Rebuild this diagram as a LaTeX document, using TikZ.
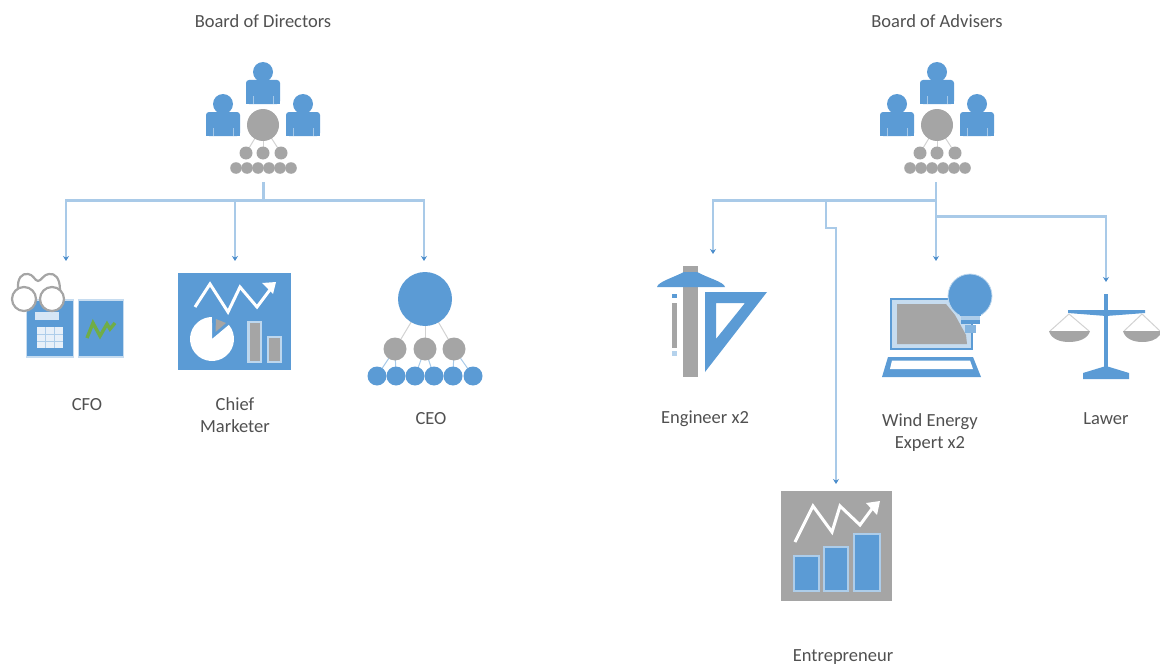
\documentclass[tikz,border=0pt]{standalone}
\usepackage{fontspec}
\setmainfont{Carlito}
\usetikzlibrary{arrows.meta}
\definecolor{iconblue}{HTML}{5B9BD5}
\definecolor{icongrey}{HTML}{A5A5A5}
\definecolor{linkblue}{HTML}{A9CAE8}
\definecolor{tipblue}{HTML}{4A8CCB}
\definecolor{labelgrey}{HTML}{505050}
\definecolor{chartgreen}{HTML}{70AD47}
\tikzset{
  link/.style={draw=linkblue,line width=2.6pt},
  linkarrow/.style={link,-{Stealth[length=5pt,width=6pt,color=tipblue]}},
  lab/.style={font=\fontsize{18.5}{22}\selectfont,text=labelgrey,align=center,inner sep=0pt},
  wire/.style={draw=icongrey!50,line width=1pt},
  whiteline/.style={draw=white,line width=3pt,line join=miter},
  person/.pic={
    \fill[iconblue] (0,-32) circle (10);
    \fill[iconblue] (-5,-26) rectangle (5,-20);
    \fill[iconblue,rounded corners=3pt] (-17,0) -- (-17,-24) -- (17,-24) -- (17,0) -- cycle;
    \fill[iconblue] (-17,-4) rectangle (17,0);
    \draw[white!45!iconblue,line width=1pt] (-10,0) -- (-10,-8) (10,0) -- (10,-8);
  },
  crowd/.pic={
    \foreach \a/\b in {0/-17,0/0,0/18}{\draw[wire] (\a,0) -- (\b,28);}
    \fill[icongrey] (0,0) circle (16);
    \foreach \a in {-17,0,18}{\fill[icongrey] (\a,28) circle (6.5);}
    \foreach \a in {-27,-16,-5,6,17,28}{\fill[icongrey] (\a,43) circle (5.8);}
  }
}
\begin{document}
\begin{tikzpicture}[x=1pt,y=-1pt]
\useasboundingbox (0,0) rectangle (1160,669);

% ---- labels
\node[lab] (dirs) at (263,21) {Board of Directors};
\node[lab] (advs) at (937,21) {Board of Advisers};
\node[lab] (cfolab) at (87,405) {CFO};
\node[lab] (cmlab) at (235,415) {Chief\\Marketer};
\node[lab] (ceolab) at (431,419) {CEO};
\node[lab] (englab) at (705,419) {Engineer x2};
\node[lab] (windlab) at (930,433) {Wind Energy\\Expert x2};
\node[lab] (lawlab) at (1106,419) {Lawer};
\node[lab] (entlab) at (843,657) {Entrepreneur};

% ---- board icons
\pic at (263,104) {person};
\pic at (223,136) {person};
\pic at (303,136) {person};
\pic at (263,125) {crowd};
\pic at (937,104) {person};
\pic at (897,136) {person};
\pic at (977,136) {person};
\pic at (937,125) {crowd};

% ---- CFO
\fill[iconblue] (27,300) rectangle (73,357);
\fill[iconblue] (79,300) rectangle (123,357);
\draw[white!65!iconblue,line width=1.2pt] (26.5,300) rectangle (73.5,357) (78.5,300) rectangle (123.5,357);
\fill[white!75!iconblue] (35,312) rectangle (59,320);
\fill[white!85!iconblue] (37,327) rectangle (63,348);
\draw[iconblue!50,line width=.7pt] (37,334) -- (63,334) (37,341) -- (63,341) (45,327) -- (45,348) (54,327) -- (54,348);
\draw[chartgreen,line width=3.4pt] (87,338) -- (93,323) -- (100,336) -- (107,324) -- (110,329) -- (115,323);
\fill[white] (18,290) .. controls (17,278) and (22,273) .. (28,274) .. controls (33,274) and (35,281) .. (38,281)
  .. controls (41,281) and (44,274) .. (49,274) .. controls (55,273) and (60,278) .. (60,290) -- cycle;
\draw[icongrey,line width=2.2pt] (18,290) .. controls (17,278) and (22,273) .. (28,274) .. controls (33,274) and (35,281) .. (38,281)
  .. controls (41,281) and (44,274) .. (49,274) .. controls (55,273) and (60,278) .. (60,290);
\draw[icongrey,fill=white,line width=2.2pt] (24,299) circle (12) (52,299) circle (12);

% ---- Chief marketer
\fill[iconblue] (178,273) rectangle (291,370);
\draw[whiteline] (195,307) -- (210,284) -- (228,312) -- (240,287) -- (257,307) -- (272,287);
\fill[white] (276,282) -- (262,283) -- (273,294) -- cycle;
\fill[white] (212,339) -- (228.85,324.86) arc (-40:270:22) -- cycle;
\fill[icongrey] (215.5,332) -- (216,319) -- (226,323) -- cycle;
\fill[icongrey,draw=white!60!iconblue,line width=2.4pt] (248.5,322) rectangle (261,362);
\fill[icongrey,draw=white!60!iconblue,line width=2.4pt] (268,337) rectangle (281,362);

% ---- CEO
\foreach \a in {395,425,454}{\draw[wire] (425,299) -- (\a,349);}
\foreach \a/\b in {395/377,395/396,425/415,425/434,454/453,454/473}{\draw[draw=linkblue,line width=1pt] (\a,349) -- (\b,376);}
\fill[iconblue] (425,299) circle (27);
\foreach \a in {395,425,454}{\fill[icongrey] (\a,349) circle (11.5);}
\foreach \a in {377,396,415,434,453,473}{\fill[iconblue] (\a,376) circle (9.5);}

% ---- Engineer
\fill[icongrey] (683,266) rectangle (698,377);
\fill[iconblue] (657,287) .. controls (658,282) and (672,278) .. (684,272) -- (697,272)
   .. controls (708,278) and (724,282) .. (725,287) -- cycle;
\fill[iconblue] (672,294) rectangle (677,298);
\fill[icongrey] (672,303) rectangle (677,348);
\fill[white!55!iconblue] (672,351) rectangle (677,356);
\fill[iconblue,even odd rule] (705,292) -- (767,292) -- (705,372) -- cycle
   (716,303) -- (745,303) -- (716,339) -- cycle;

% ---- Wind expert
\fill[white!65!iconblue,draw=iconblue,line width=2pt] (891,299) rectangle (972,349);
\fill[icongrey] (897,304) -- (946,304) -- (955,315) -- (966,335) -- (967,344) -- (897,344) -- cycle;
\fill[iconblue,draw=white!60!iconblue,line width=.8pt] (970,296) circle (22);
\fill[iconblue] (960,308) rectangle (981,316);
\fill[white!50!iconblue] (961,316) rectangle (980,320);
\fill[iconblue] (961,320) rectangle (980,324);
\fill[white!25!iconblue] (965,325) rectangle (976,333);
\fill[iconblue] (888,357) -- (973,357) -- (981,377) -- (882,377) -- cycle;
\fill[white] (892,360.5) -- (970,360.5) -- (973,369) -- (890,369) -- cycle;

% ---- Scales
\draw[wire] (1069,314) -- (1050,331) (1069,314) -- (1089,331) (1142,314) -- (1124,331) (1142,314) -- (1160,331);
\fill[iconblue] (1104,294) rectangle (1108,370);
\fill[iconblue] (1068,310) -- (1145,310) -- (1145,313) -- (1106,316) -- (1068,313) -- cycle;
\fill[iconblue] (1083,379) -- (1083,373) -- (1106,366) -- (1129,373) -- (1129,379) -- cycle;
\fill[icongrey] (1049,331) -- (1090,331) .. controls (1088,339) and (1078,342) .. (1069,342) .. controls (1060,342) and (1051,339) .. (1049,331) -- cycle;
\fill[icongrey] (1123,331) -- (1160,331) -- (1160,335) .. controls (1156,340) and (1150,342) .. (1142,342) .. controls (1134,342) and (1125,339) .. (1123,331) -- cycle;

% ---- Entrepreneur
\fill[icongrey] (781,491) rectangle (892,601);
\draw[whiteline] (795,542) -- (813,506) -- (832,532) -- (840,506) -- (860,525) -- (874,506);
\fill[white] (880,501) -- (866,503) -- (877,515) -- cycle;
\foreach \a/\b/\c in {794/819/556,824/848/547,854/880/534}{
  \fill[iconblue,draw=white!50!iconblue,line width=1.6pt] (\a,\c) rectangle (\b,591);}

% ---- connector junctions and ends
\coordinate (dsrc) at (263.5,182);
\coordinate (dbar) at (263.5,200.5);
\coordinate (dl) at (66,200.5);
\coordinate (dm) at (235,200.5);
\coordinate (dr) at (424,200.5);
\coordinate (cfoin) at (66,261);
\coordinate (cmin) at (235,261);
\coordinate (ceoin) at (424,261);
\coordinate (asrc) at (936,182);
\coordinate (abar) at (936,200.5);
\coordinate (ajoin) at (936,216.5);
\coordinate (engbend) at (713,200.5);
\coordinate (engin) at (713,254);
\coordinate (entb) at (826,200.5);
\coordinate (entc) at (826,228);
\coordinate (entd) at (836,228);
\coordinate (entin) at (836,484);
\coordinate (windin) at (936,261);
\coordinate (lawbend) at (1106,216.5);
\coordinate (lawin) at (1106,282);

\draw[link] (dsrc) -- (dbar);
\draw[linkarrow] (dm) -- (cmin);
\draw[linkarrow] (dbar) -- (dl) -- (cfoin);
\draw[linkarrow] (dbar) -- (dr) -- (ceoin);
\draw[linkarrow] (asrc) -- (windin);
\draw[linkarrow] (abar) -- (engbend) -- (engin);
\draw[linkarrow] (entb) -- (entc) -- (entd) -- (entin);
\draw[linkarrow] (ajoin) -- (lawbend) -- (lawin);
\end{tikzpicture}
\end{document}
